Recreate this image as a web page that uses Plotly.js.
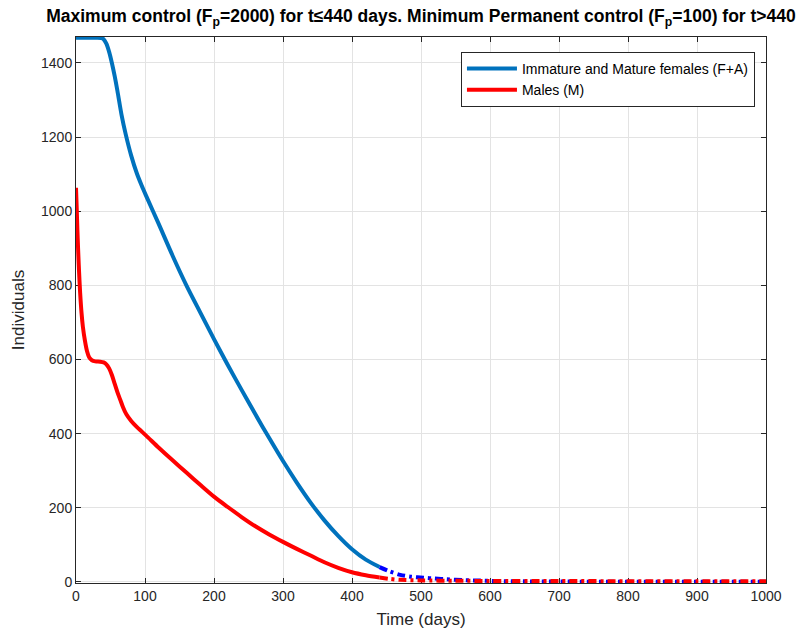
<!DOCTYPE html>
<html>
<head>
<meta charset="utf-8">
<script src="https://cdn.plot.ly/plotly-3.0.1.min.js"></script>
<style>html,body{margin:0;padding:0;background:#fff;}#chart{width:804px;height:635px;}</style>
</head>
<body>
<div id="chart"></div>
<script>
// Females (F+A), maximum control phase (t <= 440)
const femalesDays = [0, 10, 20, 30, 37, 40, 44, 48, 52, 56, 60, 66, 72, 80, 88, 95, 102, 120, 140, 160, 180, 200, 220, 240, 260, 280, 300, 320, 340, 360, 380, 400, 420, 440];
const femalesVals = [1468, 1468, 1468, 1468, 1467, 1464, 1452, 1430, 1400, 1365, 1325, 1260, 1208, 1150, 1103, 1070, 1040, 965, 880, 800, 727, 655, 585, 518, 452, 388, 326, 268, 214, 166, 124, 88, 60, 40];
// Females (F+A), minimum permanent control phase (t > 440)
const femalesDaysLate = [440, 455, 470, 485, 504, 520, 537, 560, 586, 620, 660, 700, 800, 900, 1000];
const femalesValsLate = [40, 28, 19, 14, 11, 9, 7, 5, 3.5, 2, 1.2, 0.8, 0.5, 0.3, 0.2];
// Males (M), maximum control phase
const malesDays = [0, 1, 2, 3, 4, 5, 6, 8, 10, 13, 16, 19, 23, 28, 35, 40, 44, 48, 52, 56, 60, 64, 68, 73, 80, 88, 95, 102, 120, 140, 160, 180, 200, 220, 240, 260, 280, 300, 320, 340, 360, 380, 400, 420, 440];
const malesVals = [1063, 1010, 950, 900, 855, 815, 780, 726, 688, 650, 622, 606, 598, 595, 594, 592, 587, 576, 558, 535, 512, 492, 472, 452, 434, 418, 406, 394, 362, 328, 295, 262, 230, 202, 175, 150, 128, 108, 89, 71, 53, 38, 26, 18, 12];
// Males (M), minimum permanent control phase
const malesDaysLate = [440, 455, 470, 500, 550, 600, 700, 800, 900, 1000];
const malesValsLate = [12, 8, 5.5, 4, 3, 2.5, 2.2, 2, 2, 2];

const xTicks = [0, 100, 200, 300, 400, 500, 600, 700, 800, 900, 1000];
const yTicks = [0, 200, 400, 600, 800, 1000, 1200, 1400];

const dashDot = '8px,4px,3px,4px';
const traces = [
  {x: femalesDays, y: femalesVals, mode: 'lines', name: 'Immature and Mature females (F+A)',
   line: {color: '#0072BD', width: 4, shape: 'spline', smoothing: 0.8}},
  {x: malesDays, y: malesVals, mode: 'lines', name: 'Males (M)',
   line: {color: '#FF0000', width: 4, shape: 'spline', smoothing: 0.8}},
  {x: femalesDaysLate, y: femalesValsLate, mode: 'lines', showlegend: false,
   line: {color: '#0000FF', width: 4, dash: dashDot, shape: 'spline', smoothing: 0.8}},
  {x: malesDaysLate, y: malesValsLate, mode: 'lines', showlegend: false,
   line: {color: '#FF0000', width: 4, dash: dashDot, shape: 'spline', smoothing: 0.8}}
];

const fam = 'Liberation Sans, Arial, sans-serif';
const axisCommon = {
  showline: true, linecolor: '#262626', linewidth: 1, mirror: 'ticks',
  ticks: 'inside', ticklen: 5, tickcolor: '#262626', tickwidth: 1,
  showgrid: true, gridcolor: '#e3e3e3', gridwidth: 1, zeroline: false,
  layer: 'below traces',
  tickfont: {family: fam, size: 14, color: '#262626'}
};

const layout = {
  width: 804, height: 635,
  margin: {l: 76, r: 38, t: 37, b: 52},
  paper_bgcolor: '#ffffff', plot_bgcolor: '#ffffff',
  title: {
    text: '<b>Maximum control (F<sub>p</sub>=2000) for t≤440 days. Minimum Permanent control (F<sub>p</sub>=100) for t>440</b>',
    x: 0.5, xref: 'paper', xanchor: 'center', y: 1 - 16/635, yref: 'container', yanchor: 'middle',
    font: {family: fam, size: 17.5, color: '#000000'}
  },
  xaxis: Object.assign({}, axisCommon, {
    range: [0, 1000], tickvals: xTicks, ticktext: xTicks.map(String),
    title: {text: 'Time (days)', standoff: 10, font: {family: fam, size: 17, color: '#262626'}}
  }),
  yaxis: Object.assign({}, axisCommon, {
    range: [-3, 1470], tickvals: yTicks, ticktext: yTicks.map(String),
    title: {text: 'Individuals', standoff: 12, font: {family: fam, size: 17, color: '#262626'}}
  }),
  showlegend: true,
  legend: {
    x: 0.984, xanchor: 'right', y: 0.9725, yanchor: 'top',
    bgcolor: '#ffffff', bordercolor: '#262626', borderwidth: 1,
    font: {family: fam, size: 14, color: '#000000'},
    tracegroupgap: 0, itemwidth: 50
  }
};

Plotly.newPlot('chart', traces, layout, {displayModeBar: false, staticPlot: true});
</script>
</body>
</html>
